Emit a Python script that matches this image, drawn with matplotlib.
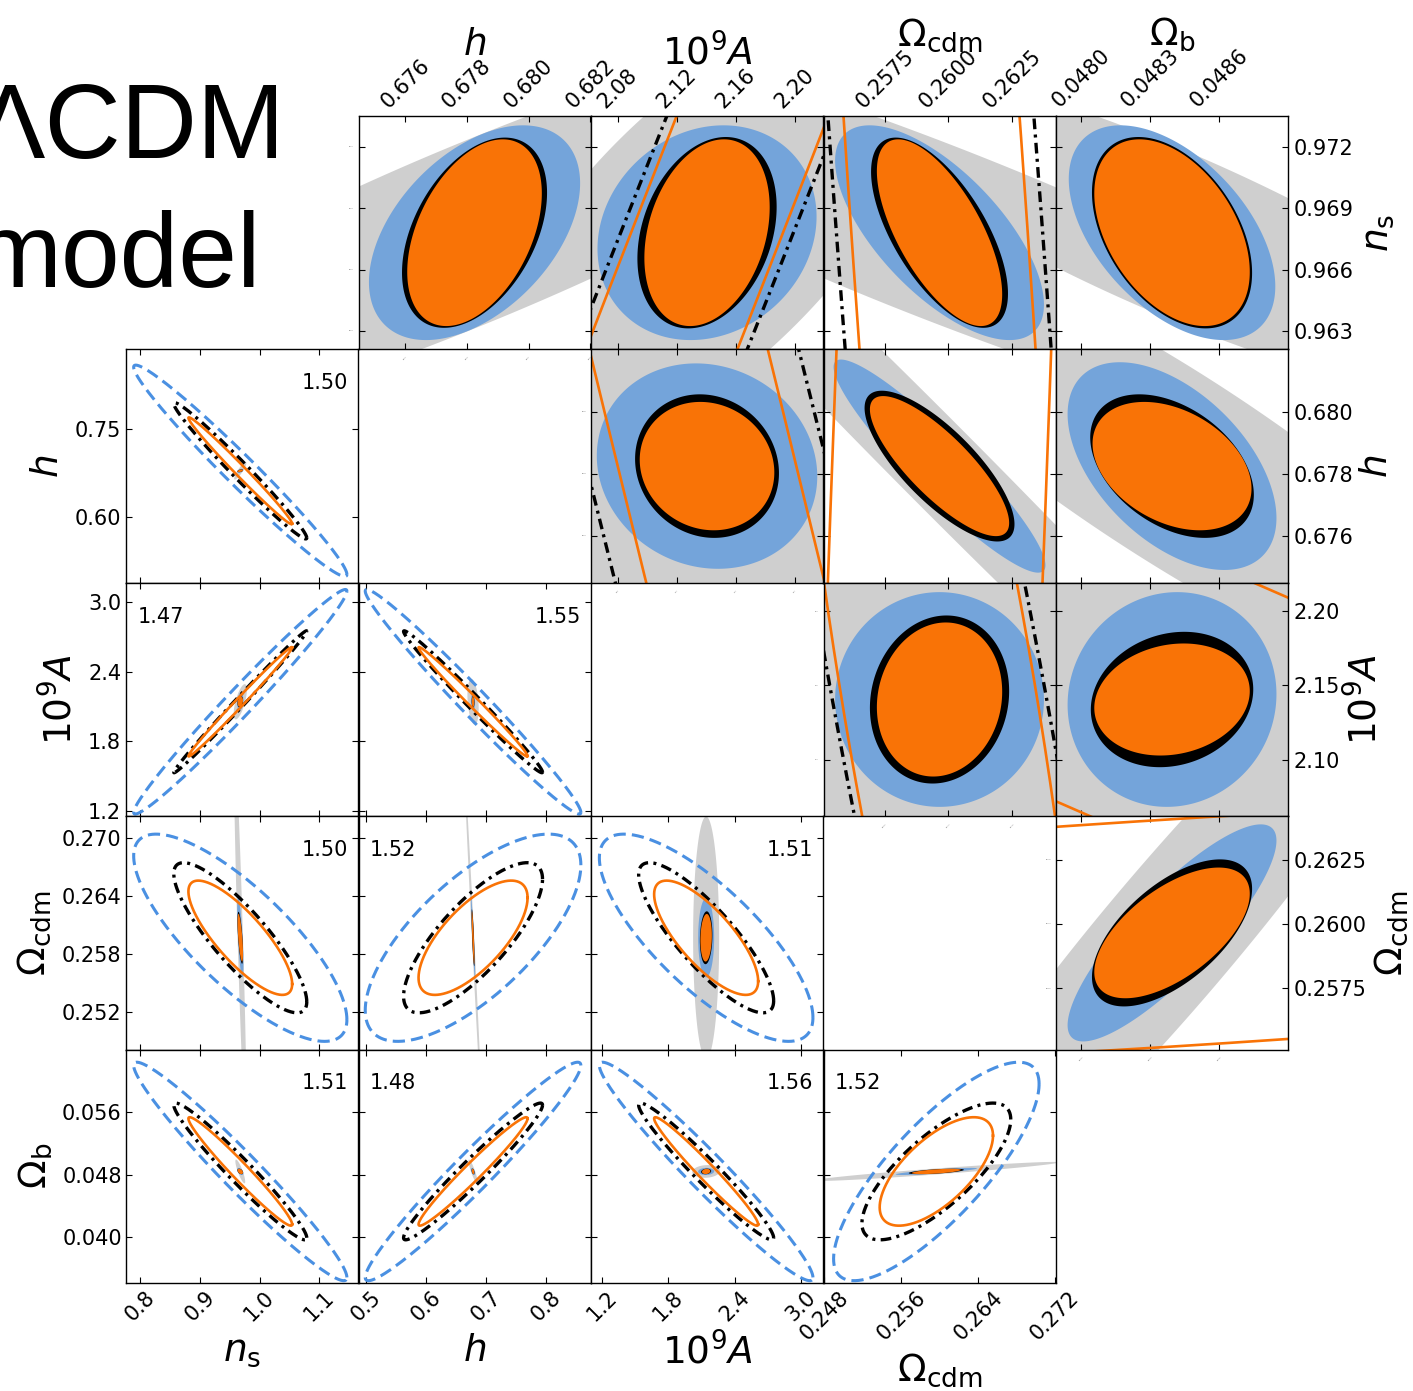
import numpy as np
import matplotlib.pyplot as plt
import matplotlib.transforms as mtransforms

# --- parameters: n_s, h, 10^9 A, Omega_cdm, Omega_b ---
NAMES = [r'$n_{\rm s}$', r'$h$', r'$10^9A$', r'$\Omega_{\rm cdm}$', r'$\Omega_{\rm b}$']
FID = [0.9678, 0.67825, 2.1405, 0.25965, 0.048395]
FINE_HALF = [0.0057, 0.00376, 0.0785, 0.00455, 0.000505]

# lower triangle (wide) axis ranges
LOW_XLIM = [(0.777, 1.165), (0.487, 0.875), (1.10, 3.20), (0.2479, 0.2721)]
LOW_YLIM = [None, (0.4875, 0.885), (1.157, 3.163), (0.2481, 0.2722), (0.0342, 0.0639)]
LOW_XTICKS = [[0.8, 0.9, 1.0, 1.1], [0.5, 0.6, 0.7, 0.8], [1.2, 1.8, 2.4, 3.0],
              [0.248, 0.256, 0.264, 0.272]]
LOW_XLABELS = [['0.8', '0.9', '1.0', '1.1'], ['0.5', '0.6', '0.7', '0.8'],
               ['1.2', '1.8', '2.4', '3.0'], ['0.248', '0.256', '0.264', '0.272']]
LOW_YTICKS = [None, [0.60, 0.75], [1.2, 1.8, 2.4, 3.0], [0.252, 0.258, 0.264, 0.270],
              [0.040, 0.048, 0.056]]
LOW_YLABELS = [None, ['0.60', '0.75'], ['1.2', '1.8', '2.4', '3.0'],
               ['0.252', '0.258', '0.264', '0.270'], ['0.040', '0.048', '0.056']]

# upper triangle (zoomed) ticks
UP_XTICKS = [None, [0.676, 0.678, 0.680, 0.682], [2.08, 2.12, 2.16, 2.20],
             [0.2575, 0.2600, 0.2625], [0.0480, 0.0483, 0.0486]]
UP_XLABELS = [None, ['0.676', '0.678', '0.680', '0.682'], ['2.08', '2.12', '2.16', '2.20'],
              ['0.2575', '0.2600', '0.2625'], ['0.0480', '0.0483', '0.0486']]
UP_YTICKS = [[0.963, 0.966, 0.969, 0.972], [0.676, 0.678, 0.680], [2.10, 2.15, 2.20],
             [0.2575, 0.2600, 0.2625]]
UP_YLABELS = [['0.963', '0.966', '0.969', '0.972'], ['0.676', '0.678', '0.680'],
              ['2.10', '2.15', '2.20'], ['0.2575', '0.2600', '0.2625']]

# wide contours: half extents per parameter
DASH_EXT = [0.178, 0.180, 0.965, 0.0107, 0.0139]
DDOT_EXT = [0.111, 0.116, 0.610, 0.00775, 0.0087]
ORNG_EXT = [0.0866, 0.091, 0.470, 0.0059, 0.0069]
# correlations per pair
DASH_RHO = {(0, 1): -0.98, (0, 2): 0.985, (0, 3): -0.79, (0, 4): -0.97, (1, 2): -0.985,
            (1, 3): 0.70, (1, 4): 0.97, (2, 3): -0.77, (2, 4): -0.97, (3, 4): 0.80}
DDOT_RHO = {(0, 1): -0.985, (0, 2): 0.9954, (0, 3): -0.853, (0, 4): -0.97, (1, 2): -0.991,
            (1, 3): 0.78, (1, 4): 0.97, (2, 3): -0.84, (2, 4): -0.97, (3, 4): 0.76}
ORNG_RHO = {(0, 1): -0.99, (0, 2): 0.994, (0, 3): -0.81, (0, 4): -0.975, (1, 2): -0.9917,
            (1, 3): 0.70, (1, 4): 0.975, (2, 3): -0.76, (2, 4): -0.976, (3, 4): 0.66}

# tight filled contours, (x extent, y extent, rho) in units of the zoom window,
# oriented as in the upper panel (row a, col b)
GREY_FILL = {(0, 1): (4.0, 1.80, 0.89), (0, 2): (1.93, 1.93, 0.676), (0, 3): (4.4, 1.85, -0.904),
             (0, 4): (3.0, 1.44, -0.854), (1, 2): (2.5, 2.5, -0.3), (1, 3): (4.0, 4.0, -0.992),
             (1, 4): (3.0, 2.03, -0.885), (2, 3): (2.75, 1.5, 0.0), (2, 4): (1.6, 1.6, 0.1),
             (3, 4): (2.4, 2.8, 0.95)}
BLUE_FILL = {(0, 1): (0.91, 0.92, 0.46), (0, 2): (0.944, 0.92, 0.15), (0, 3): (0.90, 0.92, -0.67),
             (0, 4): (0.89, 0.92, -0.5), (1, 2): (0.95, 0.88, -0.1), (1, 3): (0.913, 0.913, -0.93),
             (1, 4): (0.90, 0.89, -0.5), (2, 3): (0.90, 0.92, 0.0), (2, 4): (0.90, 0.92, 0.05),
             (3, 4): (0.90, 0.93, 0.85)}
BLACK_FILL = {(0, 1): (0.625, 0.815, 0.42), (0, 2): (0.60, 0.82, 0.27), (0, 3): (0.59, 0.815, -0.64),
              (0, 4): (0.69, 0.82, -0.42), (1, 2): (0.62, 0.615, -0.1), (1, 3): (0.646, 0.646, -0.77),
              (1, 4): (0.705, 0.615, -0.4), (2, 3): (0.60, 0.72, 0.1), (2, 4): (0.70, 0.58, 0.15),
              (3, 4): (0.69, 0.63, 0.6)}
ORANGE_FILL = {(0, 1): (0.58, 0.80, 0.42), (0, 2): (0.54, 0.80, 0.27), (0, 3): (0.54, 0.80, -0.66),
               (0, 4): (0.67, 0.80, -0.42), (1, 2): (0.58, 0.55, -0.1), (1, 3): (0.60, 0.60, -0.81),
               (1, 4): (0.685, 0.55, -0.35), (2, 3): (0.54, 0.66, 0.1), (2, 4): (0.67, 0.48, 0.15),
               (3, 4): (0.67, 0.56, 0.6)}

# numbers printed in the lower panels (row, col)
PANEL_VALUES = {(1, 0): '1.50', (2, 0): '1.47', (2, 1): '1.55', (3, 0): '1.50', (3, 1): '1.52',
                (3, 2): '1.51', (4, 0): '1.51', (4, 1): '1.48', (4, 2): '1.56', (4, 3): '1.52'}
VALUE_ON_LEFT = [(2, 0), (3, 1), (4, 1), (4, 3)]

ORANGE = '#f97306'
BLUE_LINE = '#4a90e2'
BLUE_FILL_C = '#74a4da'
GREY_C = '#cfcfcf'

# --- layout in pixels ---
W, H = 1413, 1391
COL_X = [126, 358.5, 591, 823.5, 1056]
ROW_Y = [116, 349.4, 582.8, 816.2, 1049.6]
PW, PH = 232.4, 233.4

TICK_FS = 15
LABEL_FS = 27


def ellipse(cx, cy, ex, ey, rho, n=20000):
    t = np.linspace(0, 2 * np.pi, n)
    x = cx + ex * np.cos(t)
    y = cy + ey * (rho * np.cos(t) + np.sqrt(1 - rho ** 2) * np.sin(t))
    return x, y


def draw_pair(ax, px, py):
    # px -> parameter on x axis, py -> parameter on y axis
    key = (min(px, py), max(px, py))
    a, b = key
    # filled tight contours (stored with x = param b, y = param a)
    for store, col in [(GREY_FILL, GREY_C), (BLUE_FILL, BLUE_FILL_C),
                       (BLACK_FILL, 'black'), (ORANGE_FILL, ORANGE)]:
        exn, eyn, rho = store[key]
        ext = {b: exn * FINE_HALF[b], a: eyn * FINE_HALF[a]}
        x, y = ellipse(FID[px], FID[py], ext[px], ext[py], rho, 800)
        ax.fill(x, y, color=col, lw=0)
    # wide contours as lines
    x, y = ellipse(FID[px], FID[py], DASH_EXT[px], DASH_EXT[py], DASH_RHO[key])
    ax.plot(x, y, color=BLUE_LINE, lw=2.2, dashes=(4, 2))
    x, y = ellipse(FID[px], FID[py], DDOT_EXT[px], DDOT_EXT[py], DDOT_RHO[key])
    ax.plot(x, y, color='black', lw=2.4, dashes=(3.2, 1.6, 0.9, 1.6))
    x, y = ellipse(FID[px], FID[py], ORNG_EXT[px], ORNG_EXT[py], ORNG_RHO[key])
    ax.plot(x, y, color=ORANGE, lw=1.9)


def add_panel(r, c):
    return fig.add_axes([COL_X[c] / W, 1 - (ROW_Y[r] + PH) / H, PW / W, PH / H])


fig = plt.figure(figsize=(W / 100, H / 100), dpi=100)

for r in range(5):
    for c in range(5):
        if r == c:
            continue
        ax = add_panel(r, c)
        ax.tick_params(direction='in', length=4, width=0.8, top=True, right=True,
                       labelsize=TICK_FS, labelleft=False, labelbottom=False,
                       labeltop=False, labelright=False)
        if r > c:
            # lower triangle: x = param c, y = param r
            draw_pair(ax, c, r)
            ax.set_xlim(LOW_XLIM[c])
            ax.set_ylim(LOW_YLIM[r])
            ax.set_xticks(LOW_XTICKS[c])
            ax.set_yticks(LOW_YTICKS[r])
            ax.set_xticklabels(LOW_XLABELS[c])
            ax.set_yticklabels(LOW_YLABELS[r])
            if r == 4:
                ax.tick_params(labelbottom=True, pad=3)
                for lbl in ax.get_xticklabels():
                    lbl.set_rotation(45)
                    lbl.set_ha('center')
                ax.set_xlabel(NAMES[c], fontsize=LABEL_FS, labelpad=6)
            if c == 0:
                ax.tick_params(labelleft=True)
                ax.set_ylabel(NAMES[r], fontsize=LABEL_FS, labelpad=6)
            if (r, c) in VALUE_ON_LEFT:
                ax.text(0.05, 0.855, PANEL_VALUES[(r, c)], transform=ax.transAxes,
                        fontsize=TICK_FS, ha='left', va='center')
            else:
                ax.text(0.957, 0.855, PANEL_VALUES[(r, c)], transform=ax.transAxes,
                        fontsize=TICK_FS, ha='right', va='center')
        else:
            # upper triangle: x = param c, y = param r (zoomed)
            draw_pair(ax, c, r)
            ax.set_xlim(FID[c] - FINE_HALF[c], FID[c] + FINE_HALF[c] * 1.003)
            ax.set_ylim(FID[r] - FINE_HALF[r], FID[r] + FINE_HALF[r])
            ax.set_xticks(UP_XTICKS[c])
            ax.set_yticks(UP_YTICKS[r])
            ax.set_xticklabels(UP_XLABELS[c])
            ax.set_yticklabels(UP_YLABELS[r])
            if r == 0:
                ax.tick_params(labeltop=True, pad=3)
                for lbl in ax.get_xticklabels():
                    lbl.set_rotation(45)
                    lbl.set_ha('center')
                ax.xaxis.set_label_position('top')
                ax.set_xlabel(NAMES[c], fontsize=LABEL_FS, labelpad=0)
            if c == 4:
                ax.tick_params(labelright=True, pad=4)
                ax.yaxis.set_label_position('right')
                ax.set_ylabel(NAMES[r], fontsize=LABEL_FS, labelpad=4)
            if c == r + 1:
                # tiny leftover labels beside the diagonal
                tl = mtransforms.blended_transform_factory(ax.transAxes, ax.transData)
                for v, s in zip(UP_YTICKS[r], UP_YLABELS[r]):
                    ax.text(-0.02, v, s, transform=tl, fontsize=1.2, ha='right',
                            va='center', color='#555555')
                tb = mtransforms.blended_transform_factory(ax.transData, ax.transAxes)
                for v, s in zip(UP_XTICKS[c], UP_XLABELS[c]):
                    if ax.get_xlim()[0] < v < ax.get_xlim()[1]:
                        ax.text(v, -0.03, s, transform=tb, fontsize=1.2, ha='center',
                                va='top', rotation=45, color='#555555')
        for sp in ax.spines.values():
            sp.set_linewidth(1.0)

fig.text(-26 / W, 1 - 158 / H, '\u039bCDM', fontsize=76, family='Liberation Sans',
         ha='left', va='baseline')
fig.text(-26 / W, 1 - 287 / H, 'model', fontsize=76, family='Liberation Sans',
         ha='left', va='baseline')

fig.savefig('out.png', dpi=100)
